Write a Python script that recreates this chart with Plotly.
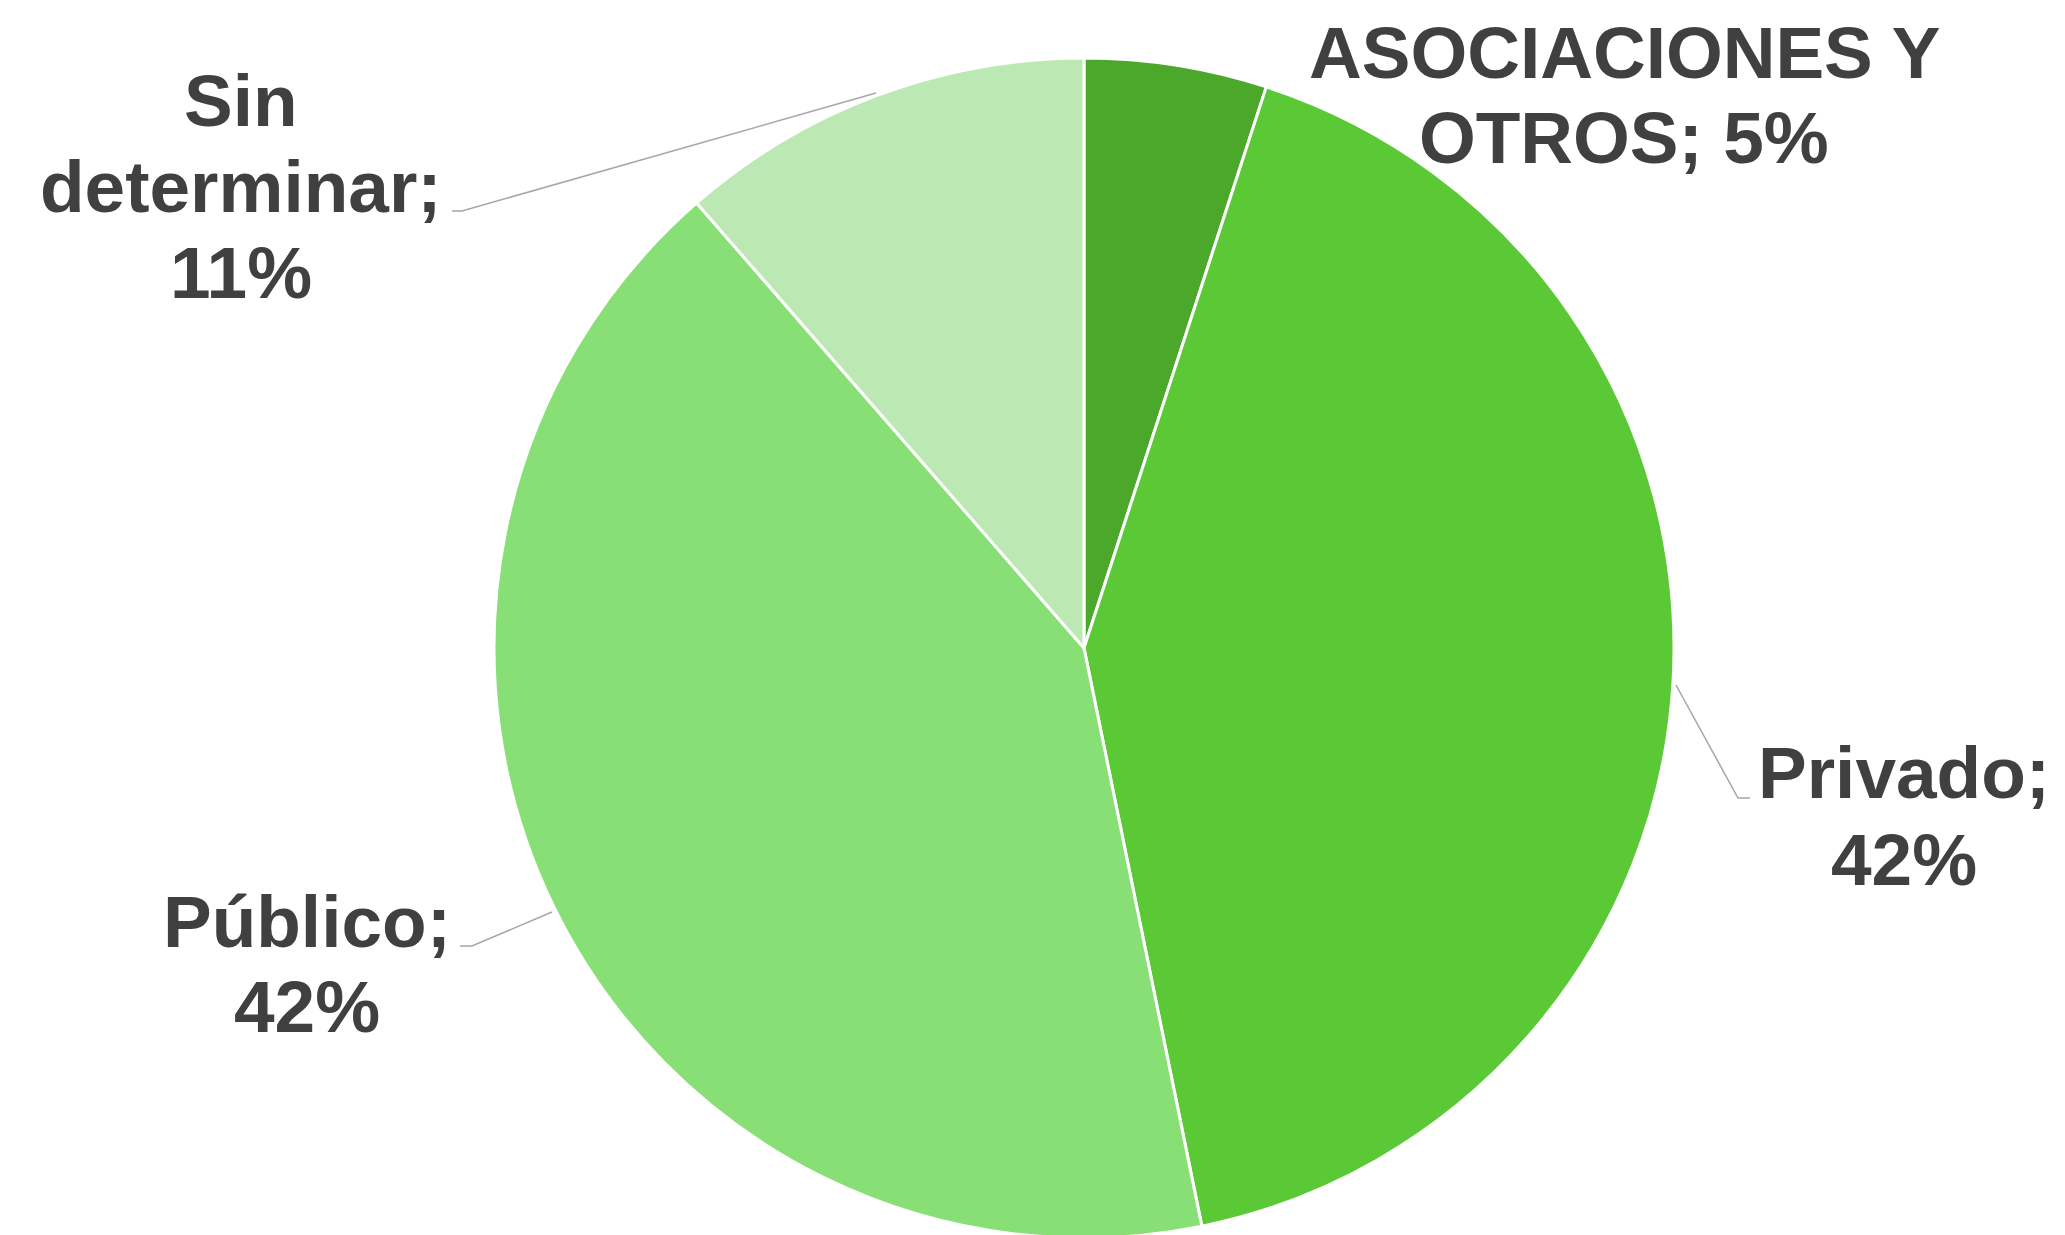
import plotly.graph_objects as go

# ---- data ----
labels = ["ASOCIACIONES Y OTROS", "Privado", "Público", "Sin determinar"]
values = [5.0, 41.8, 41.8, 11.4]
colors = ["#4CA82A", "#5BC935", "#88DF75", "#BBE8B3"]

# ---- layout constants (pixels) ----
W, H = 2065, 1245
CX, CY, R = 1084, 648, 590          # pie centre (from top) and radius
FS = 73
TEXT_COLOR = "#404040"
LINE_COLOR = "#A6A6A6"

# words per line for each label
wrap = [[2, 3], [1, 1], [1, 1], [1, 1, 1]]
# centre x and baselines (px from top) of each label block
label_pos = [
    (1624, [78, 163]),
    (1904, [798, 885]),
    (307, [947, 1032]),
    (241, [126, 212, 298]),
]
# leader lines (px)
leaders = [
    None,
    [(1676, 685), (1738, 798), (1750, 798)],
    [(552, 912), (472, 946), (460, 946)],
    [(876, 93), (462, 211), (452, 211)],
]


def px(x):
    return x / W


def py(y):
    return 1 - y / H


total = sum(values)
fig = go.Figure(
    go.Pie(
        labels=labels,
        values=values,
        sort=False,
        direction="clockwise",
        rotation=0,
        marker=dict(colors=colors, line=dict(color="white", width=3)),
        textinfo="none",
        hoverinfo="label+percent",
        showlegend=False,
        domain=dict(
            x=[px(CX - R - 10), px(CX + R + 10)],
            y=[py(CY + R), py(CY - R)],
        ),
    )
)

annotations = []
for lab, val, wr, (cx, baselines) in zip(labels, values, wrap, label_pos):
    pct = round(val / total * 100)
    words = f"{lab}; {pct}%".split(" ")
    lines, i = [], 0
    for n in wr:
        lines.append(" ".join(words[i:i + n]))
        i += n
    for line, base in zip(lines, baselines):
        annotations.append(
            dict(
                text=line,
                x=px(cx),
                y=py(base - 0.3465 * FS),
                xref="paper",
                yref="paper",
                xanchor="center",
                yanchor="middle",
                showarrow=False,
                font=dict(family="Liberation Sans, Arial, sans-serif", size=FS,
                          color=TEXT_COLOR, weight="bold"),
            )
        )

shapes = []
for pts in leaders:
    if not pts:
        continue
    path = "M " + " L ".join(f"{px(x)},{py(y)}" for x, y in pts)
    shapes.append(dict(type="path", path=path, xref="paper", yref="paper",
                       line=dict(color=LINE_COLOR, width=1.5)))

fig.update_layout(
    width=W,
    height=H,
    autosize=False,
    margin=dict(l=0, r=0, t=0, b=0),
    paper_bgcolor="white",
    plot_bgcolor="white",
    annotations=annotations,
    shapes=shapes,
)

fig.write_html(
    "out.html",
    config={"displayModeBar": False},
    post_script="document.body.style.margin='0';document.body.style.overflow='hidden';"
                "document.documentElement.style.overflow='hidden';",
)
